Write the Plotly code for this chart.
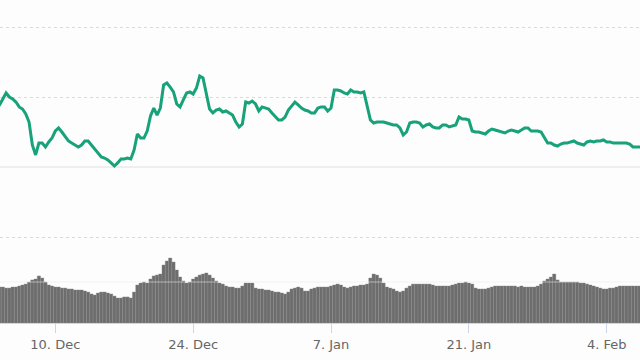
import pandas as pd
import plotly.graph_objects as go

# ---- data ----
START = "2018-12-04 00:00"
STEP = "8h"

price = [
    144.3, 144.3, 148.6, 152.9, 150.0, 148.6, 146.4, 142.9, 141.4, 137.9,
    132.1, 115.7, 108.6, 117.1, 117.1, 114.3, 117.9, 120.7, 125.7, 127.9,
    125.0, 121.4, 118.6, 117.1, 115.7, 114.3, 115.7, 118.6, 118.6, 115.7,
    113.6, 110.7, 107.1, 106.4, 105.0, 102.9, 100.7, 102.9, 105.7, 105.7,
    106.4, 105.7, 112.1, 123.6, 120.7, 120.7, 125.7, 136.4, 142.1, 137.1,
    142.1, 158.6, 160.0, 157.1, 153.6, 145.0, 142.9, 147.9, 152.9, 153.6,
    152.1, 156.4, 165.0, 163.6, 153.6, 141.4, 138.6, 140.7, 141.4, 139.3,
    140.0, 138.6, 137.1, 132.1, 128.6, 130.7, 146.4, 145.7, 147.1, 145.0,
    140.0, 142.9, 142.1, 141.4, 138.6, 135.7, 133.6, 133.6, 135.7, 140.7,
    143.6, 146.4, 144.3, 142.1, 140.7, 140.0, 138.6, 138.6, 142.1, 142.9,
    142.9, 140.0, 142.1, 155.0, 155.0, 154.3, 152.9, 152.1, 155.0, 153.6,
    153.6, 152.9, 153.6, 144.3, 133.6, 131.4, 132.1, 132.1, 132.1, 131.4,
    130.7, 130.0, 130.0, 127.9, 122.9, 125.0, 131.4, 132.1, 132.1, 131.4,
    128.6, 130.0, 130.7, 128.6, 127.9, 127.9, 130.0, 130.0, 128.6, 129.3,
    130.0, 135.7, 134.3, 134.3, 133.6, 125.7, 125.0, 125.0, 124.3, 123.6,
    125.7, 127.1, 126.4, 125.7, 125.0, 124.3, 125.7, 126.4, 125.7, 125.0,
    126.4, 127.9, 127.9, 125.7, 125.7, 125.7, 125.0, 120.7, 117.1, 117.1,
    115.7, 115.0, 116.4, 117.1, 117.1, 117.9, 118.6, 117.1, 116.4, 115.7,
    117.9, 118.6, 117.9, 118.6, 118.6, 119.3, 117.9, 117.9, 117.1, 117.1,
    117.1, 117.1, 117.1, 116.4, 114.3, 114.3, 114.3, 114.3,
]

volume = [
    35.1, 35.1, 35.1, 34.1, 34.1, 35.1, 35.1, 36.1, 37.1, 38.0,
    40.0, 42.0, 42.9, 45.9, 43.9, 40.0, 37.1, 36.1, 35.1, 35.1,
    34.1, 34.1, 33.2, 33.2, 32.2, 32.2, 32.2, 31.2, 30.2, 28.3,
    27.3, 29.3, 30.2, 30.2, 29.3, 28.3, 26.3, 24.4, 24.4, 25.4,
    25.4, 24.4, 30.2, 37.1, 39.0, 40.0, 39.0, 42.9, 45.9, 46.8,
    47.8, 56.6, 60.5, 63.4, 59.5, 51.7, 44.9, 41.0, 39.0, 40.0,
    42.9, 44.9, 46.8, 47.8, 48.8, 46.8, 43.9, 41.0, 39.0, 38.0,
    36.1, 35.1, 35.1, 34.1, 34.1, 36.1, 39.0, 39.0, 39.0, 34.1,
    33.2, 33.2, 32.2, 32.2, 31.2, 30.2, 30.2, 29.3, 28.3, 30.2,
    33.2, 34.1, 35.1, 34.1, 31.2, 31.2, 33.2, 34.1, 35.1, 35.1,
    35.1, 35.1, 36.1, 37.1, 38.0, 37.1, 35.1, 34.1, 35.1, 36.1,
    36.1, 37.1, 37.1, 38.0, 43.9, 47.8, 46.8, 43.9, 39.0, 35.1,
    34.1, 33.2, 31.2, 30.2, 31.2, 34.1, 36.1, 38.0, 38.0, 38.0,
    38.0, 38.0, 38.0, 37.1, 36.1, 36.1, 36.1, 36.1, 36.1, 37.1,
    38.0, 39.0, 39.0, 40.0, 39.0, 38.0, 34.1, 33.2, 33.2, 33.2,
    34.1, 35.1, 36.1, 36.1, 36.1, 36.1, 36.1, 36.1, 36.1, 35.1,
    36.1, 35.1, 35.1, 35.1, 35.1, 36.1, 38.0, 41.0, 42.9, 44.9,
    47.8, 42.0, 40.0, 40.0, 40.0, 40.0, 40.0, 40.0, 39.0, 39.0,
    38.0, 37.1, 36.1, 35.1, 34.1, 33.2, 33.2, 34.1, 34.1, 35.1,
    36.1, 36.1, 36.1, 36.1, 36.1, 36.1, 36.1, 36.1,
]

tick_dates = ["2018-12-10", "2018-12-24", "2019-01-07", "2019-01-21", "2019-02-04"]
tick_labels = ["10. Dec", "24. Dec", "7. Jan", "21. Jan", "4. Feb"]

x_range = ["2018-12-04 09:11", "2019-02-07 09:07"]
price_range = [-11.43, 219.29]
price_grid = [50, 150, 200]
price_base = 100
volume_range = [0, 315.1]
volume_grid = 40

# ---- figure ----
times = pd.date_range(START, periods=len(price), freq=STEP)

GREEN = "#17a27a"
BAR = "#6d6d6d"
BG = "#fdfdfd"

fig = go.Figure()
fig.add_trace(go.Bar(
    x=times, y=volume, yaxis="y",
    marker=dict(color=BAR, line=dict(width=0.4, color="#8a8a8a")),
    hoverinfo="skip",
))
fig.add_trace(go.Scatter(
    x=times, y=price, yaxis="y2", mode="lines",
    line=dict(color=GREEN, width=3),
    hoverinfo="skip",
))

fig.update_layout(
    width=640, height=360,
    margin=dict(l=0, r=0, t=0, b=37),
    paper_bgcolor=BG, plot_bgcolor=BG,
    showlegend=False,
    bargap=0.0,
    xaxis=dict(
        type="date", range=x_range,
        tickvals=tick_dates, ticktext=tick_labels,
        ticks="outside", ticklen=9, tickcolor="#ccd6eb", tickwidth=1,
        showline=True, linecolor="#ccd6eb", linewidth=1,
        showgrid=False, zeroline=False,
        tickfont=dict(family="DejaVu Sans", size=13, color="#666666"),
    ),
    yaxis=dict(
        range=volume_range, tickvals=[volume_grid], showticklabels=False,
        showgrid=False, zeroline=False,
    ),
    yaxis2=dict(
        overlaying="y", range=price_range, tickvals=price_grid,
        showticklabels=False, showgrid=True, gridcolor="#dadada",
        griddash="dot", gridwidth=1, zeroline=False,
    ),
    shapes=[
        dict(type="line", xref="paper", x0=0, x1=1, yref="y2",
             y0=price_base, y1=price_base, layer="below",
             line=dict(color="#e0e0e0", width=1)),
        dict(type="line", xref="paper", x0=0, x1=1, yref="y",
             y0=volume_grid, y1=volume_grid, layer="above",
             line=dict(color="rgba(235,235,235,0.55)", width=1)),
    ],
)

fig.write_html(
    "out.html",
    config=dict(displayModeBar=False, staticPlot=True),
    post_script="document.body.style.margin='0';document.body.style.background='#fdfdfd';",
)
